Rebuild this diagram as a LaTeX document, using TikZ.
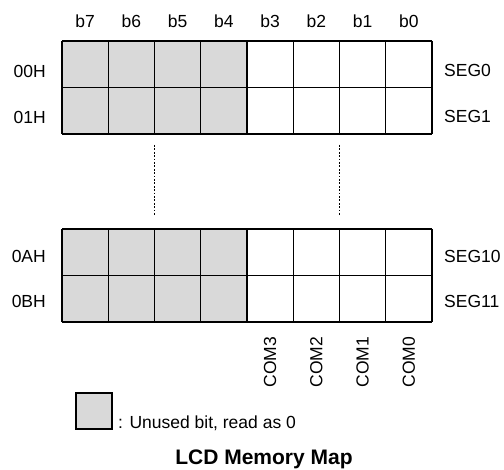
\documentclass[tikz,border=0pt]{standalone}
\usepackage{fontspec}
\setmainfont{Liberation Sans}
\definecolor{unusedgray}{HTML}{D9D9D9}
\begin{document}
\begin{tikzpicture}[x=1pt,y=-1pt,
  cellline/.style={line width=1.2pt},
  dotline/.style={line width=1.6pt,dash pattern=on 1.8pt off 1.6pt},
  lbl/.style={font=\fontsize{17.5}{20}\selectfont,inner sep=0pt},
  titel/.style={font=\fontsize{21}{24}\selectfont\bfseries,inner sep=0pt}]
  \useasboundingbox (0,0) rectangle (504,470);
  % Blocchi della mappa
  \foreach \top in {41,229} {
    \fill[unusedgray] (62,\top) rectangle (247,\top+93);
    \foreach \c in {0,...,8}
      \draw[cellline] (62+46.25*\c,\top) -- (62+46.25*\c,\top+93);
    \foreach \r in {0,1,2}
      \draw[cellline] (62,\top+46.5*\r) -- (432,\top+46.5*\r);
  }
  % Intestazione dei bit
  \foreach \c in {0,...,7} {
    \pgfmathtruncatemacro\bit{7-\c}
    \node[lbl] (b\bit) at (62+46.25*\c+23.1,21.5) {b\bit};
  }
  % Indirizzi e segmenti
  \node[lbl,anchor=east] (a00) at (46,71) {00H};
  \node[lbl,anchor=east] (a01) at (46,117) {01H};
  \node[lbl,anchor=east] (a0A) at (46,256) {0AH};
  \node[lbl,anchor=east] (a0B) at (46,301) {0BH};
  \node[lbl,anchor=west] (seg0) at (444,70) {SEG0};
  \node[lbl,anchor=west] (seg1) at (444,116) {SEG1};
  \node[lbl,anchor=west] (seg10) at (444,256) {SEG10};
  \node[lbl,anchor=west] (seg11) at (444,301) {SEG11};
  % Puntini di continuazione
  \coordinate (d1a) at (154.5,145);
  \coordinate (d1b) at (154.5,216);
  \coordinate (d2a) at (339.5,145);
  \coordinate (d2b) at (339.5,216);
  \draw[dotline] (d1a) -- (d1b);
  \draw[dotline] (d2a) -- (d2b);
  % Linee COM
  \foreach \c/\n in {4/3,5/2,6/1,7/0}
    \node[lbl,rotate=90] (com\n) at (62+46.25*\c+23.1,362) {COM\n};
  % Legenda
  \draw[cellline,fill=unusedgray] (76,393) rectangle (112,429);
  \node[lbl,anchor=base west] (legenda) at (118,429) {: Unused bit, read as 0};
  % Titolo
  \node[titel] (titolo) at (264,459) {LCD Memory Map};
\end{tikzpicture}
\end{document}
